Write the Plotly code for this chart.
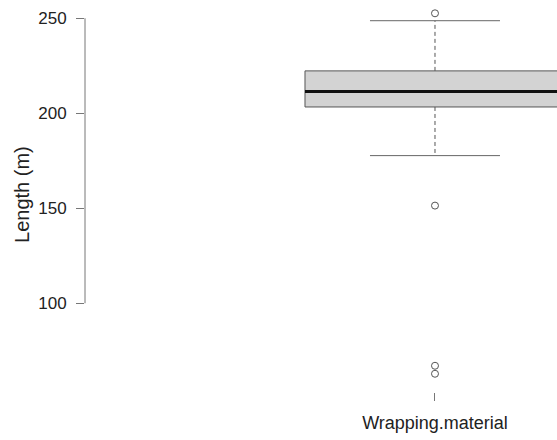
import plotly.graph_objects as go

# ---- data ----
categories = ["Wrapping.material"]
q1 = [203.3]
median = [211.4]
q3 = [222.3]
lower_whisker = [177.7]
upper_whisker = [248.7]
outliers = [[252.6, 151.4, 67.1, 62.9]]
y_ticks = [100, 150, 200, 250]

# ---- style constants ----
BOX_HALF = 0.4
STAPLE_HALF = 0.2
FONT = "Liberation Sans, Arial, sans-serif"
BOX_FILL = "#d3d3d3"
BOX_LINE = "#555555"
WHISK = "#555555"
AXIS = "#777777"
TEXT = "#222222"

fig = go.Figure()

for i, cat in enumerate(categories):
    c = i + 1
    # box
    fig.add_trace(go.Scatter(
        x=[c - BOX_HALF, c + BOX_HALF, c + BOX_HALF, c - BOX_HALF, c - BOX_HALF],
        y=[q1[i], q1[i], q3[i], q3[i], q1[i]],
        mode="lines", fill="toself", fillcolor=BOX_FILL,
        line=dict(color=BOX_LINE, width=1), hoverinfo="skip"))
    # whiskers (dashed)
    fig.add_trace(go.Scatter(
        x=[c, c, None, c, c],
        y=[q3[i], upper_whisker[i], None, q1[i], lower_whisker[i]],
        mode="lines", line=dict(color=WHISK, width=1, dash="4px,3px"),
        hoverinfo="skip"))
    # staples
    fig.add_trace(go.Scatter(
        x=[c - STAPLE_HALF, c + STAPLE_HALF, None, c - STAPLE_HALF, c + STAPLE_HALF],
        y=[upper_whisker[i], upper_whisker[i], None, lower_whisker[i], lower_whisker[i]],
        mode="lines", line=dict(color="#666666", width=1), hoverinfo="skip"))
    # median
    fig.add_trace(go.Scatter(
        x=[c - BOX_HALF, c + BOX_HALF], y=[median[i], median[i]],
        mode="lines", line=dict(color="#111111", width=3), hoverinfo="skip"))
    # outliers
    fig.add_trace(go.Scatter(
        x=[c] * len(outliers[i]), y=outliers[i], mode="markers",
        marker=dict(symbol="circle-open", size=7, color=BOX_LINE,
                    line=dict(width=1, color=BOX_LINE)),
        hoverinfo="skip"))

fig.update_layout(
    width=557, height=440,
    margin=dict(l=85, r=0, t=0, b=48),
    paper_bgcolor="white", plot_bgcolor="white",
    showlegend=False,
    font=dict(family=FONT, size=17, color=TEXT),
    xaxis=dict(range=[-0.0769, 1.3754], tickvals=list(range(1, len(categories) + 1)),
               ticktext=categories, ticks="outside", ticklen=8, tickcolor=AXIS,
               tickwidth=1, showline=False, showgrid=False, zeroline=False,
               ticklabelstandoff=6, tickfont=dict(size=18, color=TEXT)),
    yaxis=dict(range=[53.3, 259.6], tickvals=y_ticks, ticks="outside", ticklen=8,
               tickcolor=AXIS, tickwidth=1, showline=False, showgrid=False,
               zeroline=False, ticklabelstandoff=6,
               tickfont=dict(size=17, color=TEXT)),
    shapes=[dict(type="line", xref="paper", yref="y", x0=0, x1=0,
                 y0=min(y_ticks), y1=max(y_ticks),
                 line=dict(color=AXIS, width=1))],
    annotations=[dict(text="Length (m)", textangle=-90, xref="paper", yref="y",
                      x=0, xshift=-63, xanchor="center", yanchor="middle",
                      y=157, showarrow=False,
                      font=dict(size=20, color=TEXT))],
)

fig.write_html("out.html")
